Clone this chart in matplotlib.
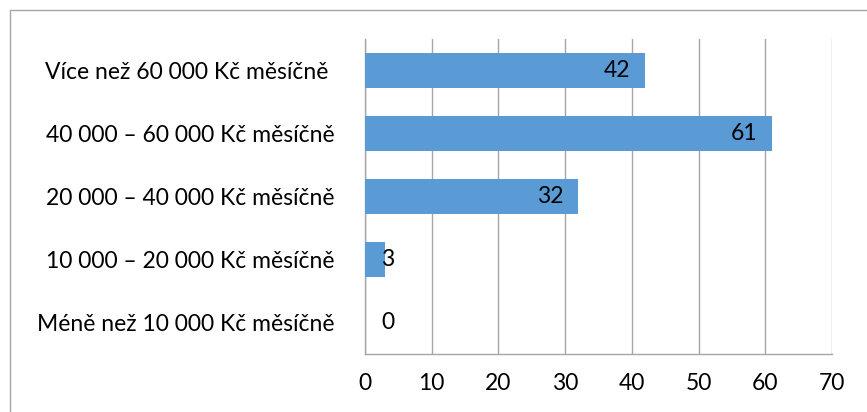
import matplotlib
matplotlib.use("Agg")
import matplotlib.pyplot as plt
from matplotlib.patches import Rectangle
from matplotlib.transforms import offset_copy

categories = ["Méně než 10 000 Kč měsíčně",
              "10 000 – 20 000 Kč měsíčně",
              "20 000 – 40 000 Kč měsíčně",
              "40 000 – 60 000 Kč měsíčně",
              "Více než 60 000 Kč měsíčně "]
values = [0, 3, 32, 61, 42]
xticks = [0, 10, 20, 30, 40, 50, 60, 70]

plt.rcParams['font.family'] = ['Lato', 'DejaVu Sans']

fig = plt.figure(figsize=(8.67, 4.12), dpi=100)
ax = fig.add_axes([365/867, 1-354/412, (832-365)/867, (354-39)/412])

grey = '#A6A6A6'
bar_color = '#5B9BD5'
fs = 16.5

ypos = list(range(len(categories)))
ax.barh(ypos, values, height=0.57, color=bar_color, zorder=3)

ax.set_xlim(0, 70)
ax.set_ylim(-0.5, len(categories)-0.5)
ax.set_xticks(xticks)
ax.set_yticks(ypos)
ax.set_yticklabels(categories)
ax.tick_params(axis='both', length=0, labelsize=fs, colors='black')
ax.tick_params(axis='y', pad=22)
ax.tick_params(axis='x', pad=14)
ax.xaxis.grid(True, color=grey, lw=1, zorder=0)
for s in ['top', 'right']:
    ax.spines[s].set_visible(False)
for s in ['left', 'bottom']:
    ax.spines[s].set_color(grey)
    ax.spines[s].set_linewidth(1)

for y, v in zip(ypos, values):
    if v < 5:
        tr = offset_copy(ax.transData, fig=fig, x=16, y=0, units='dots')
        ax.text(0, y, str(v), transform=tr, ha='left', va='center',
                fontsize=fs, zorder=4)
    else:
        tr = offset_copy(ax.transData, fig=fig, x=-15, y=0, units='dots')
        ax.text(v, y, str(v), transform=tr, ha='right', va='center',
                fontsize=fs, zorder=4)

# chart area border
fig.patches.append(Rectangle((10/867, -0.2), 1.2, 1.2 - 10/412,
                             transform=fig.transFigure, fill=False,
                             edgecolor=grey, lw=1))

fig.savefig("out.png", dpi=100)
